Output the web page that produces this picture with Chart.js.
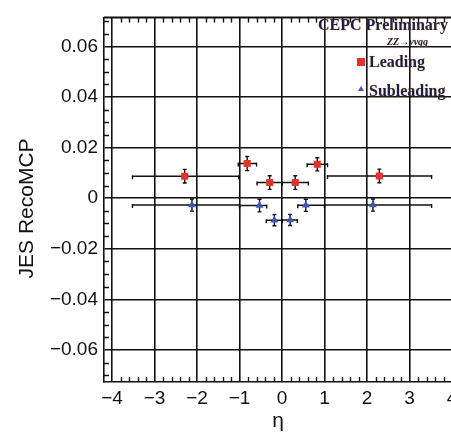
<!DOCTYPE html>
<html>
<head>
<meta charset="utf-8">
<script src="https://cdn.jsdelivr.net/npm/chart.js@4.4.1/dist/chart.umd.min.js"></script>
<style>
html, body { margin: 0; padding: 0; background: #fff; overflow: hidden; }
#wrap { width: 451px; height: 432px; overflow: hidden; position: relative; }
canvas { position: absolute; left: 0; top: 0; }
</style>
</head>
<body>
<div id="wrap"><canvas id="chart" width="470" height="432"></canvas></div>
<script>
// Values

const etaTicks = [-4, -3, -2, -1, 0, 1, 2, 3, 4];
const jesTicks = [-0.06, -0.04, -0.02, 0, 0.02, 0.04, 0.06];

// Leading jet
const etaLeading = [-2.29, -0.82, -0.29, 0.31, 0.83, 2.29];
const jesLeading = [0.0087, 0.0137, 0.0062, 0.0062, 0.0134, 0.0088];
const etaLeadingLo = [-3.52, -1.03, -0.59, 0.0, 0.59, 1.07];
const etaLeadingHi = [-1.02, -0.60, 0.0, 0.62, 1.07, 3.52];
const jesLeadingErr = [0.0027, 0.0028, 0.0027, 0.0027, 0.0026, 0.0027];

// Subleading jet
const etaSub = [-2.12, -0.53, -0.18, 0.19, 0.56, 2.14];
const jesSub = [-0.0027, -0.0029, -0.0087, -0.0086, -0.0028, -0.0027];
const etaSubLo = [-3.52, -1.0, -0.37, 0.0, 0.37, 1.0];
const etaSubHi = [-1.0, -0.36, 0.0, 0.36, 1.0, 3.52];
const jesSubErr = [0.0024, 0.0025, 0.0022, 0.0022, 0.0024, 0.0024];

const RED = '#e3342b';
const BLUE = '#3b58b4';
const INK = '#111';

function toPoints(xs, ys) {
    return xs.map((v, i) => ({ x: v, y: ys[i] }));
}

function fmtMinus(v, digits) {
    if (Math.abs(v) < 1e-9) return '0';
    const s = Math.abs(v).toFixed(digits);
    return v < 0 ? '\u2212' + s : s;
}

// error bars drawn under the markers
const errorBars = {
    id: 'errorBars',
    beforeDatasetsDraw(chart) {
        const { ctx, scales: { x, y } } = chart;
        ctx.save();
        ctx.strokeStyle = INK;
        ctx.lineWidth = 1.4;
        chart.data.datasets.forEach(ds => {
            ds.data.forEach((p, i) => {
                const px = x.getPixelForValue(p.x);
                const py = y.getPixelForValue(p.y);
                const x0 = x.getPixelForValue(ds.xLo[i]);
                const x1 = x.getPixelForValue(ds.xHi[i]);
                const y0 = y.getPixelForValue(p.y - ds.yErr[i]);
                const y1 = y.getPixelForValue(p.y + ds.yErr[i]);
                ctx.beginPath();
                ctx.moveTo(x0, py); ctx.lineTo(x1, py);
                ctx.moveTo(x0, py - 1); ctx.lineTo(x0, py + 3);
                ctx.moveTo(x1, py - 1); ctx.lineTo(x1, py + 3);
                ctx.moveTo(px, y0); ctx.lineTo(px, y1);
                ctx.moveTo(px - 2, y0); ctx.lineTo(px + 2, y0);
                ctx.moveTo(px - 2, y1); ctx.lineTo(px + 2, y1);
                ctx.stroke();
            });
        });
        ctx.restore();
    }
};

// frame and minor ticks
const frame = {
    id: 'frame',
    afterDatasetsDraw(chart) {
        const { ctx, chartArea: a, scales: { x, y } } = chart;
        ctx.save();
        ctx.strokeStyle = INK;
        ctx.lineWidth = 1.4;
        ctx.beginPath();
        for (let v = -4; v <= 4.001; v += 0.2) {
            if (Math.abs(v - Math.round(v)) < 1e-6) continue;
            const px = Math.round(x.getPixelForValue(v)) + 0.5;
            ctx.moveTo(px, a.bottom); ctx.lineTo(px, a.bottom - 5);
            ctx.moveTo(px, a.top); ctx.lineTo(px, a.top + 5);
        }
        for (let v = -0.07; v <= 0.0701; v += 0.005) {
            if (Math.abs(v / 0.02 - Math.round(v / 0.02)) < 1e-6) continue;
            const py = Math.round(y.getPixelForValue(v)) + 0.5;
            ctx.moveTo(a.left, py); ctx.lineTo(a.left + 5, py);
        }
        ctx.stroke();
        ctx.lineWidth = 2;
        ctx.beginPath();
        ctx.moveTo(a.left, a.top); ctx.lineTo(a.right, a.top);
        ctx.stroke();
        ctx.restore();
    },
    afterDraw(chart) {
        const { ctx, chartArea: a } = chart;
        ctx.save();
        // y axis title
        ctx.fillStyle = INK;
        ctx.font = '21px "Liberation Sans", Arial, sans-serif';
        ctx.textAlign = 'center';
        ctx.textBaseline = 'middle';
        ctx.translate(27, a.top + 191);
        ctx.rotate(-Math.PI / 2);
        ctx.fillText('JES RecoMCP', 0, 0);
        ctx.restore();

        // legend
        ctx.save();
        const r = a.right;
        ctx.fillStyle = '#1a2048';
        ctx.shadowColor = 'rgba(240,150,60,0.6)';
        ctx.shadowBlur = 1.5;
        ctx.textBaseline = 'alphabetic';
        ctx.textAlign = 'left';
        ctx.font = 'bold 16px "Liberation Serif", "Times New Roman", serif';
        ctx.fillText('CEPC Preliminary', r - 134, 30);
        ctx.font = 'bold italic 10px "Liberation Serif", "Times New Roman", serif';
        ctx.fillText('ZZ\u2192\u03bd\u03bdqq', r - 65, 45);
        ctx.font = 'bold 16px "Liberation Serif", "Times New Roman", serif';
        ctx.fillText('Leading', r - 83, 67);
        ctx.fillText('Subleading', r - 83, 96);
        ctx.shadowBlur = 0;
        ctx.fillStyle = RED;
        ctx.fillRect(r - 95, 58, 8, 8);
        ctx.fillStyle = BLUE;
        ctx.beginPath();
        ctx.moveTo(r - 91, 86); ctx.lineTo(r - 88, 91); ctx.lineTo(r - 94, 91);
        ctx.closePath();
        ctx.fill();
        ctx.restore();
    }
};

const ctx = document.getElementById('chart').getContext('2d');
new Chart(ctx, {
    type: 'scatter',
    data: {
        datasets: [
            {
                label: 'Leading',
                data: toPoints(etaLeading, jesLeading),
                xLo: etaLeadingLo, xHi: etaLeadingHi, yErr: jesLeadingErr,
                pointStyle: 'rect',
                pointRadius: 5,
                backgroundColor: RED,
                borderColor: RED,
                borderWidth: 0
            },
            {
                label: 'Subleading',
                data: toPoints(etaSub, jesSub),
                xLo: etaSubLo, xHi: etaSubHi, yErr: jesSubErr,
                pointStyle: 'triangle',
                pointRadius: 4.5,
                backgroundColor: BLUE,
                borderColor: BLUE,
                borderWidth: 0
            }
        ]
    },
    options: {
        responsive: false,
        animation: false,
        devicePixelRatio: 1,
        layout: { padding: { top: 7, right: 18, bottom: 0, left: 0 } },
        plugins: {
            legend: { display: false },
            tooltip: { enabled: false }
        },
        scales: {
            x: {
                type: 'linear',
                min: -4.19,
                max: 4,
                afterBuildTicks: s => { s.ticks = etaTicks.map(v => ({ value: v })); },
                afterFit: s => { s.height = 50; },
                grid: { color: INK, lineWidth: 1.6, drawTicks: false },
                border: { color: INK, width: 1.6 },
                ticks: {
                    color: INK,
                    padding: 5,
                    maxRotation: 0,
                    font: { family: '"Liberation Sans", Arial, sans-serif', size: 19 },
                    callback: v => fmtMinus(v, 0)
                },
                title: {
                    display: true,
                    text: '\u03b7',
                    color: INK,
                    padding: 0,
                    font: { family: '"Liberation Sans", Arial, sans-serif', size: 21, lineHeight: 1 }
                }
            },
            y: {
                type: 'linear',
                min: -0.0727,
                max: 0.0715,
                afterBuildTicks: s => { s.ticks = jesTicks.map(v => ({ value: v })); },
                afterFit: s => { s.width = 104; },
                grid: { color: INK, lineWidth: 1.6, drawTicks: false },
                border: { color: INK, width: 1.6 },
                ticks: {
                    color: INK,
                    padding: 6,
                    font: { family: '"Liberation Sans", Arial, sans-serif', size: 19 },
                    callback: v => fmtMinus(v, 2)
                }
            }
        }
    },
    plugins: [errorBars, frame]
});
</script>
</body>
</html>
